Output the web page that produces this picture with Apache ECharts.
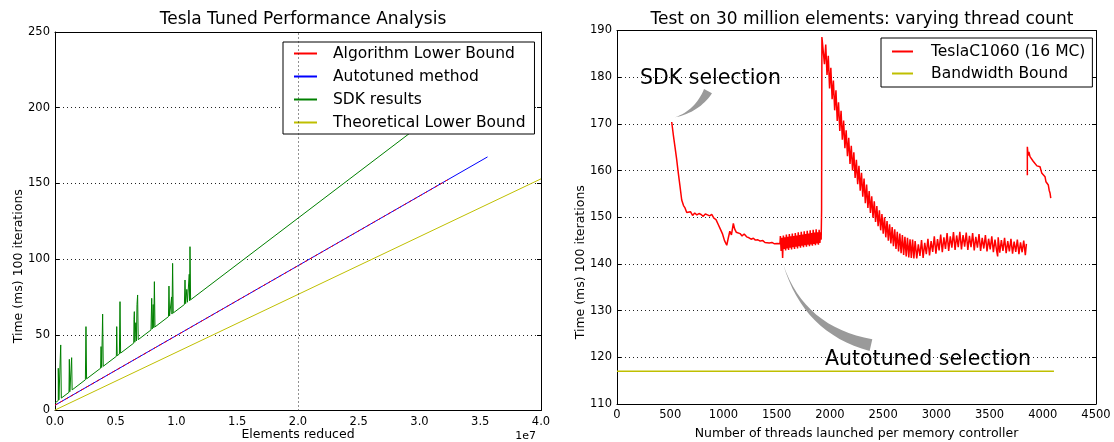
<!DOCTYPE html>
<html>
<head>
<meta charset="utf-8">
<script src="https://cdn.jsdelivr.net/npm/echarts@6/dist/echarts.min.js"></script>
<style>
html, body { margin: 0; padding: 0; background: #fff; }
#chart { width: 1114px; height: 442px; }
</style>
</head>
<body>
<div id="chart"></div>
<script>
// ---- left panel: time vs elements reduced (x in units of 1e7) ----
const leftXTicks = [0, 0.5, 1.0, 1.5, 2.0, 2.5, 3.0, 3.5, 4.0];
const leftYTicks = [0, 50, 100, 150, 200, 250];

const algoLowerBound = [[0, 3.5], [3.25, 153.2]];
const autotunedMethod = [[0, 3.5], [3.56, 167.5]];
const sdkResults = [
    [0, 5],
    [0.027, 6.6], [0.027, 27.9], [0.032, 7.0], [0.042, 7.6], [0.047, 43.3], [0.052, 8.2],
    [0.115, 12.0], [0.118, 33.8], [0.122, 12.4], [0.132, 13.1], [0.137, 34.9], [0.141, 13.6],
    [0.25, 20.3], [0.255, 55.4], [0.26, 20.9],
    [0.375, 27.9], [0.379, 42.2], [0.384, 28.4], [0.388, 28.7], [0.392, 63.7], [0.397, 29.2],
    [0.505, 35.8], [0.508, 55.4], [0.512, 36.2], [0.53, 37.3], [0.535, 71.9], [0.54, 37.9],
    [0.648, 44.5], [0.65, 60.0], [0.653, 65.3], [0.657, 45.1], [0.665, 58.0], [0.67, 45.9],
    [0.675, 70.0], [0.68, 76.3], [0.685, 46.8],
    [0.79, 53.2], [0.796, 74.1], [0.80, 53.8], [0.808, 70.0], [0.813, 54.6], [0.818, 85.1], [0.823, 55.2],
    [0.934, 62.0], [0.938, 82.2], [0.943, 62.5], [0.96, 75.0], [0.963, 63.7], [0.968, 97.2], [0.973, 64.4],
    [1.065, 70.0], [1.07, 86.2], [1.075, 70.6], [1.085, 80.0], [1.09, 71.5], [1.105, 90.0],
    [1.108, 72.5], [1.111, 108.2], [1.116, 73.1],
    [3.55, 221.6]
];
const theoreticalBound = [[0, 0.3], [4.0, 153]];

// ---- right panel: time vs thread count ----
const rightXTicks = [0, 500, 1000, 1500, 2000, 2500, 3000, 3500, 4000, 4500];
const rightYTicks = [110, 120, 130, 140, 150, 160, 170, 180, 190];

const teslaC1060 = [
    // start, drop and plateau
    [514, 170.4], [530, 167.5], [545, 165], [560, 162.5], [573, 160], [590, 157], [608, 153.7],
    [625, 152.5], [639, 152], [655, 151], [670, 150.8], [690, 151.2], [710, 150.4], [730, 150.9],
    [750, 150.5], [770, 150.8], [790, 150.6], [810, 150.2], [830, 150.7], [850, 150.5], [870, 150.3],
    [890, 150.6], [910, 149.8], [930, 149.5], [950, 148.5], [970, 147.5], [990, 146.5], [1010, 145],
    [1031, 144], [1045, 145.5], [1060, 147], [1075, 146.2], [1093, 148.7], [1105, 147.5], [1120, 146.8],
    [1135, 147.2], [1156, 146.5], [1175, 146], [1195, 146.4], [1218, 145.8], [1240, 145.6], [1260, 145.3],
    [1281, 145.5], [1300, 145.1], [1320, 145.2], [1345, 144.9], [1370, 145], [1390, 144.6], [1406, 144.8],
    [1430, 144.5], [1455, 144.6], [1480, 144.3], [1505, 144.4], [1531, 144.3],
    // noisy band
    [1535, 146.0], [1542, 142.8], [1549, 145.6], [1556, 141.3], [1563, 146.1], [1570, 143.2],
    [1577, 145.7], [1584, 142.9], [1591, 146.3], [1598, 143.3], [1605, 145.8], [1612, 143.0],
    [1619, 146.4], [1626, 143.5], [1633, 145.9], [1640, 143.1], [1647, 146.5], [1654, 143.6],
    [1661, 146.0], [1668, 143.2], [1675, 146.6], [1682, 143.7], [1689, 146.1], [1696, 143.3],
    [1703, 146.8], [1710, 143.8], [1717, 146.2], [1724, 143.5], [1731, 146.9], [1738, 143.9],
    [1745, 146.3], [1752, 143.6], [1759, 147.0], [1766, 144.0], [1773, 146.4], [1780, 143.7],
    [1787, 147.1], [1794, 144.1], [1801, 146.5], [1808, 143.8], [1815, 147.2], [1822, 144.2],
    [1829, 146.6], [1836, 143.9], [1843, 147.3], [1850, 144.3], [1857, 146.7], [1864, 144.0],
    [1871, 147.4], [1878, 144.4], [1885, 146.8], [1892, 144.1], [1899, 147.3], [1906, 144.5],
    [1913, 146.8], [1918, 145.2],
    // jump and decay
    [1922, 151.5], [1925, 188.6],
    [1937, 188.4], [1949, 182.8], [1961, 187.0], [1973, 180.5], [1985, 184.6], [1997, 177.6],
    [2009, 182.0], [2021, 175.3], [2033, 179.3], [2045, 172.9], [2057, 177.2], [2069, 170.6],
    [2081, 174.6], [2093, 168.5], [2105, 172.8], [2117, 166.6], [2129, 170.7], [2141, 164.8],
    [2153, 168.6], [2165, 163.1], [2177, 167.0], [2189, 161.4], [2201, 165.3], [2213, 160.0],
    [2225, 163.9], [2237, 158.4], [2249, 162.3], [2261, 157.1], [2273, 161.0], [2285, 155.7],
    [2297, 159.5], [2309, 154.4], [2321, 158.3], [2333, 153.0], [2345, 157.0], [2357, 152.0],
    [2369, 155.6], [2381, 150.9], [2393, 154.5], [2405, 149.9], [2417, 153.4], [2429, 149.0],
    [2441, 152.4], [2453, 148.1], [2465, 151.5], [2477, 147.2], [2489, 150.7], [2501, 146.5],
    [2513, 150.0], [2525, 145.7], [2537, 149.2], [2549, 145.0], [2561, 148.5], [2573, 144.4],
    [2585, 147.9], [2597, 143.8], [2609, 147.4], [2621, 143.2], [2633, 146.9], [2645, 142.7],
    [2657, 146.5], [2669, 142.3], [2681, 146.2], [2693, 141.9], [2705, 145.8], [2717, 141.6],
    [2729, 145.6], [2741, 141.4], [2753, 145.3], [2765, 141.3], [2777, 145.2], [2789, 141.2],
    // long noisy plateau
    [2801, 144.9], [2816, 141.2], [2831, 144.2], [2846, 141.7], [2861, 145.1], [2876, 141.3],
    [2891, 144.5], [2906, 142.1], [2921, 145.4], [2936, 141.8], [2951, 144.9], [2966, 142.6],
    [2981, 145.9], [2996, 142.2], [3011, 145.3], [3026, 142.9], [3041, 146.3], [3056, 142.5],
    [3071, 145.7], [3086, 143.2], [3101, 146.6], [3116, 142.8], [3131, 145.9], [3146, 143.5],
    [3161, 146.8], [3176, 143.0], [3191, 146.1], [3206, 143.6], [3221, 146.9], [3236, 143.1],
    [3251, 146.2], [3266, 143.7], [3281, 146.7], [3296, 143.0], [3311, 146.0], [3326, 143.6],
    [3341, 146.6], [3356, 142.9], [3371, 145.8], [3386, 143.5], [3401, 146.4], [3416, 142.8],
    [3431, 145.6], [3446, 143.3], [3461, 146.2], [3476, 142.7], [3491, 145.4], [3506, 143.1],
    [3521, 145.9], [3536, 142.5], [3551, 145.2], [3566, 142.9], [3576, 141.6], [3581, 145.7],
    [3596, 142.4], [3611, 145.1], [3626, 142.8], [3641, 145.6], [3656, 142.3], [3671, 144.9],
    [3686, 142.7], [3701, 145.4], [3716, 142.2], [3731, 144.8], [3746, 142.6], [3761, 145.2],
    [3776, 142.1], [3791, 144.6], [3806, 142.5], [3821, 145.0], [3836, 141.9], [3846, 144.3],
    [3850, '-'],
    // last short run
    [3855, 159.0], [3855, 165.1], [3862, 163.2], [3870, 164.0], [3880, 163.0], [3895, 162.8],
    [3910, 162.0], [3927, 161.9], [3945, 161.0], [3960, 161.2], [3974, 160.8], [3990, 159.5],
    [4005, 159.2], [4021, 158.7], [4030, 157.6], [4040, 157.8], [4052, 156.9], [4060, 155.8],
    [4068, 155.2], [4075, 154.1]
];
const bandwidthBound = [[0, 117], [4105, 117]];

// annotation anchors in data units of the right panel
const notes = [
    { text: 'SDK selection', at: [216, 179.6], tip: [545, 171.4], base: [855, 177], bend: 9, width: 9 },
    { text: 'Autotuned selection', at: [1954, 119.4], tip: [1563, 139.8], base: [2386, 122.6], bend: 34, width: 12 }
];

const FONT = 'DejaVu Sans';
const YNAME = 'Time (ms) 100 iterations';
const dotted = { color: '#222', width: 1, type: [1, 3] };
const frame = { show: true, onZero: false, lineStyle: { color: '#000', width: 1 } };
const inTick = { show: true, inside: true, length: 4, lineStyle: { color: '#000' } };

function ticksAxis(grid, min, max, step, pos, extra) {
    return Object.assign({
        type: 'value', gridIndex: grid, min: min, max: max, interval: step, position: pos,
        axisLine: frame,
        axisTick: { show: false },
        axisLabel: { show: false },
        splitLine: { show: false }
    }, extra || {});
}

const labelStyle = { color: '#000', fontFamily: FONT, fontSize: 11.5 };
const nameStyle = { fontFamily: FONT, fontSize: 12.5, color: '#000' };
const legendText = { fontFamily: FONT, fontSize: 15.5, color: '#000', lineHeight: 17 };

const option = {
    animation: false,
    backgroundColor: '#fff',
    textStyle: { fontFamily: FONT },
    title: [
        { text: 'Tesla Tuned Performance Analysis', left: 298, top: 6, textAlign: 'center',
          textStyle: { fontFamily: FONT, fontSize: 17, fontWeight: 'normal', color: '#000' } },
        { text: 'Test on 30 million elements: varying thread count', left: 857, top: 6, textAlign: 'center',
          textStyle: { fontFamily: FONT, fontSize: 17, fontWeight: 'normal', color: '#000' } }
    ],
    grid: [
        { left: 55, top: 32, width: 486, height: 378.5, outerBoundsMode: 'none', containLabel: false },
        { left: 617, top: 30.5, width: 479, height: 373.5, outerBoundsMode: 'none', containLabel: false }
    ],
    legend: [
        {
            data: ['Algorithm Lower Bound', 'Autotuned method', 'SDK results', 'Theoretical Lower Bound'],
            orient: 'vertical', left: 283, top: 42,
            padding: [3, 9, 3, 11], itemGap: 6, itemWidth: 23, itemHeight: 2, icon: 'rect',
            backgroundColor: '#fff', borderColor: '#000', borderWidth: 1, borderRadius: 0,
            textStyle: Object.assign({ padding: [0, 0, 0, 11] }, legendText)
        },
        {
            data: ['TeslaC1060 (16 MC)', 'Bandwidth Bound'],
            orient: 'vertical', left: 881, top: 38,
            padding: [5, 7, 5, 11], itemGap: 5, itemWidth: 21, itemHeight: 2, icon: 'rect',
            backgroundColor: '#fff', borderColor: '#000', borderWidth: 1, borderRadius: 0,
            textStyle: Object.assign({ padding: [0, 0, 0, 13] }, legendText)
        }
    ],
    xAxis: [
        ticksAxis(0, leftXTicks[0], leftXTicks[leftXTicks.length - 1], 0.5, 'bottom', {
            axisLabel: Object.assign({ margin: 6, formatter: v => v.toFixed(1) }, labelStyle),
            name: 'Elements reduced', nameLocation: 'middle', nameGap: 18, nameMoveOverlap: false,
            nameTextStyle: nameStyle
        }),
        ticksAxis(0, leftXTicks[0], leftXTicks[leftXTicks.length - 1], 0.5, 'top'),
        ticksAxis(1, rightXTicks[0], rightXTicks[rightXTicks.length - 1], 500, 'bottom', {
            axisLabel: Object.assign({ margin: 5, formatter: v => String(v) }, labelStyle),
            name: 'Number of threads launched per memory controller', nameLocation: 'middle', nameGap: 23,
            nameMoveOverlap: false, nameTextStyle: nameStyle
        }),
        ticksAxis(1, rightXTicks[0], rightXTicks[rightXTicks.length - 1], 500, 'top')
    ],
    yAxis: [
        ticksAxis(0, leftYTicks[0], leftYTicks[leftYTicks.length - 1], 50, 'left', {
            axisTick: inTick,
            axisLabel: Object.assign({ margin: 5 }, labelStyle),
            splitLine: { show: true, lineStyle: dotted }
        }),
        ticksAxis(0, leftYTicks[0], leftYTicks[leftYTicks.length - 1], 50, 'right', { axisTick: inTick }),
        ticksAxis(1, rightYTicks[0], rightYTicks[rightYTicks.length - 1], 10, 'left', {
            axisTick: inTick,
            axisLabel: Object.assign({ margin: 5 }, labelStyle),
            splitLine: { show: true, lineStyle: dotted }
        }),
        ticksAxis(1, rightYTicks[0], rightYTicks[rightYTicks.length - 1], 10, 'right', { axisTick: inTick })
    ],
    series: [
        { name: 'Autotuned method', type: 'line', xAxisIndex: 0, yAxisIndex: 0, data: autotunedMethod,
          symbol: 'none', color: '#0000ff', lineStyle: { width: 1 } },
        { name: 'Algorithm Lower Bound', type: 'line', xAxisIndex: 0, yAxisIndex: 0, data: algoLowerBound,
          symbol: 'none', color: '#ff0000', lineStyle: { width: 1, type: [3, 3] } },
        { name: 'SDK results', type: 'line', xAxisIndex: 0, yAxisIndex: 0, data: sdkResults,
          symbol: 'none', color: '#008000', lineStyle: { width: 1 } },
        { name: 'Theoretical Lower Bound', type: 'line', xAxisIndex: 0, yAxisIndex: 0, data: theoreticalBound,
          symbol: 'none', color: '#bfbf00', lineStyle: { width: 1 },
          markLine: { silent: true, symbol: 'none', label: { show: false },
                      lineStyle: dotted, data: [{ xAxis: 2.0 }] } },
        { name: 'TeslaC1060 (16 MC)', type: 'line', xAxisIndex: 2, yAxisIndex: 2, data: teslaC1060,
          symbol: 'none', color: '#ff0000', lineStyle: { width: 1.5 }, connectNulls: false },
        { name: 'Bandwidth Bound', type: 'line', xAxisIndex: 2, yAxisIndex: 2, data: bandwidthBound,
          symbol: 'none', color: '#bfbf00', lineStyle: { width: 1.5 } }
    ]
};

const chart = echarts.init(document.getElementById('chart'));
chart.setOption(option);

// curved wedge arrows + big annotation texts, placed from data coordinates
function quad(p0, c, p1, n) {
    const pts = [];
    for (let i = 0; i <= n; i++) {
        const t = i / n, u = 1 - t;
        pts.push([u * u * p0[0] + 2 * u * t * c[0] + t * t * p1[0],
                  u * u * p0[1] + 2 * u * t * c[1] + t * t * p1[1]]);
    }
    return pts;
}
function wedge(tip, base, bend, width) {
    const dx = base[0] - tip[0], dy = base[1] - tip[1];
    const len = Math.hypot(dx, dy);
    const nx = -dy / len, ny = dx / len;
    const c = [(tip[0] + base[0]) / 2 + nx * bend, (tip[1] + base[1]) / 2 + ny * bend];
    const tx = base[0] - c[0], ty = base[1] - c[1];
    const tl = Math.hypot(tx, ty);
    const mx = -ty / tl * width / 2, my = tx / tl * width / 2;
    const side1 = quad(tip, [c[0] + mx / 2, c[1] + my / 2], [base[0] + mx, base[1] + my], 16);
    const side2 = quad(tip, [c[0] - mx / 2, c[1] - my / 2], [base[0] - mx, base[1] - my], 16).reverse();
    return side1.concat(side2);
}

const toPx = p => chart.convertToPixel({ seriesIndex: 4 }, p);
const graphics = [];
notes.forEach(n => {
    graphics.push({
        type: 'polygon', silent: true, z: 50,
        shape: { points: wedge(toPx(n.tip), toPx(n.base), n.bend, n.width) },
        style: { fill: '#9a9a9a' }
    });
    const p = toPx(n.at);
    graphics.push({
        type: 'text', silent: true, z: 51,
        style: { text: n.text, x: p[0], y: p[1], font: '20.5px "DejaVu Sans"', fill: '#000',
                 textVerticalAlign: 'middle', verticalAlign: 'middle' }
    });
});

// rotated y-axis titles sit a bit below the middle of each panel
[[0, 0], [4, 2]].forEach(([si, yi]) => {
    const lo = chart.convertToPixel({ seriesIndex: si }, [0, option.yAxis[yi].min]);
    const hi = chart.convertToPixel({ seriesIndex: si }, [0, option.yAxis[yi].max]);
    graphics.push({
        type: 'text', silent: true, rotation: Math.PI / 2,
        x: lo[0] - 36, y: (lo[1] + hi[1]) / 2 + 45,
        style: { text: YNAME, font: '12.5px "DejaVu Sans"', fill: '#000',
                 textAlign: 'center', textVerticalAlign: 'middle', align: 'center', verticalAlign: 'middle' }
    });
});

const corner = chart.convertToPixel({ seriesIndex: 0 }, [4.0, 0]);
graphics.push({
    type: 'text', silent: true,
    style: { text: '1e7', x: corner[0] - 5, y: corner[1] + 26, font: '11px "DejaVu Sans"', fill: '#000',
             textAlign: 'right', textVerticalAlign: 'middle', align: 'right', verticalAlign: 'middle' }
});
chart.setOption({ graphic: graphics });
</script>
</body>
</html>
